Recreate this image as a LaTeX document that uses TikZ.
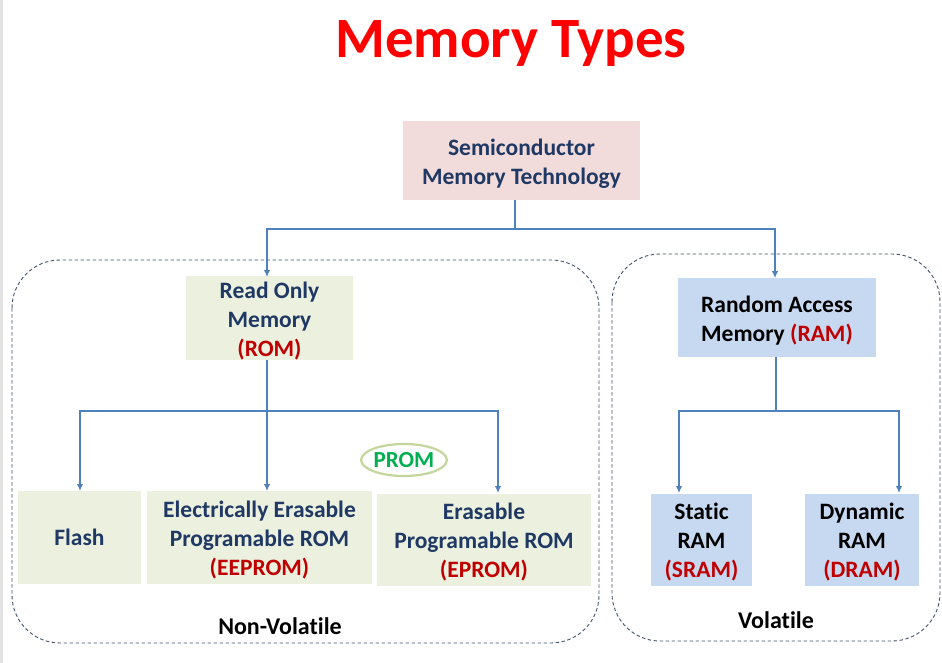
\documentclass[tikz,border=0pt]{standalone}
\usepackage{fontspec}
\setmainfont[Ligatures=NoCommon]{Carlito}
\usetikzlibrary{arrows.meta,shapes.geometric}
\definecolor{titlered}{HTML}{FF0000}
\definecolor{accred}{HTML}{C00000}
\definecolor{navy}{HTML}{1F3864}
\definecolor{pinkfill}{HTML}{F2DCDB}
\definecolor{greenfill}{HTML}{EBF1DE}
\definecolor{bluefill}{HTML}{C6D9F1}
\definecolor{linkblue}{HTML}{4F81BD}
\definecolor{dashgray}{HTML}{44546A}
\definecolor{promgreen}{HTML}{00B050}
\definecolor{promring}{HTML}{C3D69B}
\tikzset{
  box/.style={inner sep=0pt, align=center, font=\bfseries\fontsize{23.5}{29}\selectfont},
  romside/.style={box, fill=greenfill, text=navy},
  ramside/.style={box, fill=bluefill, text=black},
  link/.style={draw=linkblue, line width=1.2pt},
  arr/.style={link, -{Latex[length=7pt,width=6.5pt]}},
  group/.style={draw=dashgray, line width=0.9pt, dash pattern=on 3.5pt off 2.5pt, rounded corners=48pt},
  grouplabel/.style={font=\bfseries\fontsize{24}{28}\selectfont, text=black},
}
\newcommand{\acr}[1]{\textcolor{accred}{#1}}
% taller first line: sets the text block a little lower in its box
\newcommand{\lowtop}{\rule{0pt}{22pt}}
\begin{document}
\begin{tikzpicture}[x=1pt,y=-1pt]
\useasboundingbox (0,0) rectangle (942,663);
\fill[white] (0,0) rectangle (942,663);
\fill[gray!22] (0,0) rectangle (3,663);

% title
\node[font=\bfseries\fontsize{57}{64}\selectfont, text=titlered, anchor=base, inner sep=0pt] (title) at (511,58) {Memory Types};

% group outlines
\draw[group] (12,260) rectangle (599,643);
\draw[group] (612,254) rectangle (940,641);
\node[grouplabel] (nvlabel) at (280,626) {Non-Volatile};
\node[grouplabel] (vlabel) at (776,620) {Volatile};

% root
\node[box, fill=pinkfill, text=navy, minimum width=237pt, minimum height=79pt] (sem) at (521.5,160.5)
  {\lowtop Semiconductor\\Memory Technology};

% second level
\node[romside, minimum width=167pt, minimum height=81pt] (rom) at (269.5,318)
  {\lowtop Read Only\\Memory\\\acr{(ROM)}};
\node[ramside, minimum width=198pt, minimum height=79pt] (ram) at (777,317.5)
  {\lowtop Random Access\\Memory \acr{(RAM)}};

% ROM family
\node[romside, minimum width=123pt, minimum height=93pt] (flash) at (79.5,537.5) {Flash};
\node[romside, minimum width=225pt, minimum height=93pt] (eeprom) at (259.5,537.5)
  {\lowtop Electrically Erasable\\Programable ROM\\\acr{(EEPROM)}};
\node[romside, minimum width=214pt, minimum height=92pt] (eprom) at (484,539.5)
  {\lowtop Erasable\\Programable ROM\\\acr{(EPROM)}};
\node[ellipse, draw=promring, line width=2.2pt, minimum width=80pt, minimum height=32pt, inner sep=0pt,
      text=promgreen, font=\bfseries\fontsize{23}{26}\selectfont] (prom) at (404,460) {PROM};

% RAM family
\node[ramside, minimum width=101pt, minimum height=92pt] (sram) at (701.5,539.5)
  {\lowtop Static\\RAM\\\acr{(SRAM)}};
\node[ramside, minimum width=114pt, minimum height=92pt] (dram) at (862,539.5)
  {\lowtop Dynamic\\RAM\\\acr{(DRAM)}};

% connectors
\coordinate (j1) at (515,229);
\coordinate (j2) at (267,411);
\coordinate (j3) at (776,411);
\coordinate (romin) at (267,277);
\coordinate (ramin) at (775,278);
\coordinate (eeprin) at (267,491);
\coordinate (eprin) at (498,493);
\coordinate (flin) at (80,491);
\coordinate (srin) at (679,493);
\coordinate (drin) at (899,493);

\draw[link] (sem.south -| j1) -- (j1);
\draw[arr] (j1) -| (romin);
\draw[arr] (j1) -| (ramin);

\draw[link] (rom.south -| j2) -- (j2);
\draw[arr] (j2) -| (flin);
\draw[arr] (j2) -- (eeprin);
\draw[arr] (j2) -| (eprin);

\draw[link] (ram.south -| j3) -- (j3);
\draw[arr] (j3) -| (srin);
\draw[arr] (j3) -| (drin);
\end{tikzpicture}
\end{document}
